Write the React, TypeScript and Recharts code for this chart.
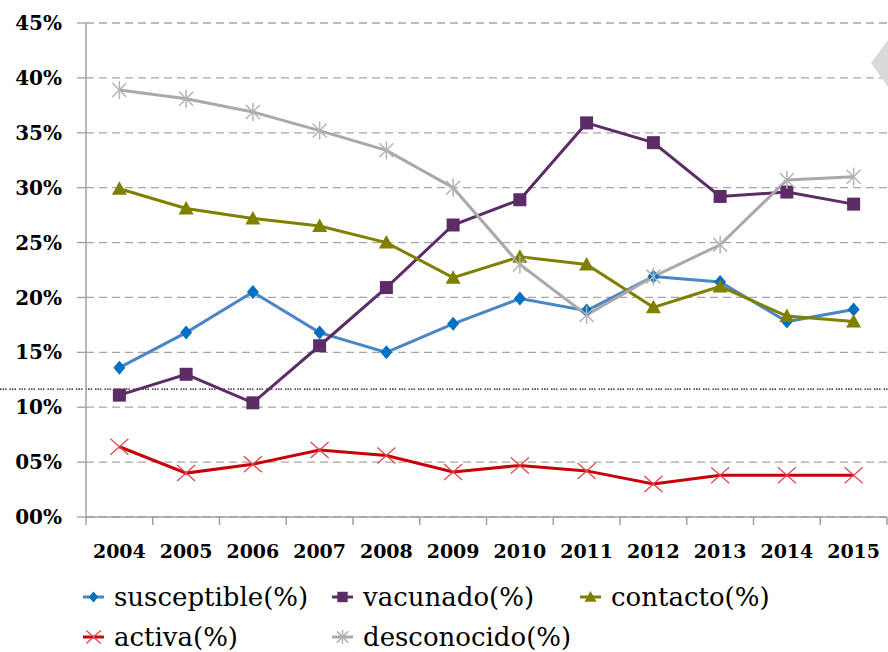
import React from 'react';
import { LineChart, Line, XAxis, YAxis, CartesianGrid, Legend, ReferenceLine } from 'recharts';

const years = ['2004', '2005', '2006', '2007', '2008', '2009', '2010', '2011', '2012', '2013', '2014', '2015'];
const susceptible = [13.6, 16.8, 20.5, 16.8, 15.0, 17.6, 19.9, 18.8, 21.9, 21.4, 17.8, 18.9];
const vacunado = [11.1, 13.0, 10.4, 15.6, 20.9, 26.6, 28.9, 35.9, 34.1, 29.2, 29.6, 28.5];
const contacto = [29.9, 28.1, 27.2, 26.5, 25.0, 21.8, 23.7, 23.0, 19.1, 21.0, 18.3, 17.8];
const activa = [6.4, 4.0, 4.8, 6.1, 5.6, 4.1, 4.7, 4.2, 3.0, 3.8, 3.8, 3.8];
const desconocido = [38.9, 38.1, 36.9, 35.2, 33.4, 30.0, 23.0, 18.4, 21.9, 24.8, 30.7, 31.0];
const yTicks = [0, 5, 10, 15, 20, 25, 30, 35, 40, 45];
const thresholdLine = 11.65;

const W = 888;
const H = 652;
const PLOT_LEFT = 86;
const PLOT_RIGHT = 887;
const BW = (PLOT_RIGHT - PLOT_LEFT) / years.length;

const data = years.map((y, i) => ({
  year: y,
  susceptible: susceptible[i],
  vacunado: vacunado[i],
  contacto: contacto[i],
  activa: activa[i],
  desconocido: desconocido[i],
}));

type M = { cx: number; cy: number; s?: number };

const Diamond = ({ cx, cy, s = 1 }: M) => (
  <polygon points={`${cx},${cy - 7 * s} ${cx + 6 * s},${cy} ${cx},${cy + 7 * s} ${cx - 6 * s},${cy}`} fill="#0070c0" />
);
const Square = ({ cx, cy, s = 1 }: M) => (
  <rect x={cx - 6.5 * s} y={cy - 6.5 * s} width={13 * s} height={13 * s} fill="#5b2c66" />
);
const Triangle = ({ cx, cy, s = 1 }: M) => (
  <polygon points={`${cx},${cy - 7.5 * s} ${cx + 7.5 * s},${cy + 6 * s} ${cx - 7.5 * s},${cy + 6 * s}`} fill="#7f7f00" />
);
const Cross = ({ cx, cy, s = 1 }: M) => (
  <g stroke="#e0474c" strokeWidth={1.3}>
    <line x1={cx - 9 * s} y1={cy - 8 * s} x2={cx + 9 * s} y2={cy + 8 * s} />
    <line x1={cx - 9 * s} y1={cy + 8 * s} x2={cx + 9 * s} y2={cy - 8 * s} />
  </g>
);
const Star = ({ cx, cy, s = 1 }: M) => (
  <g stroke="#b3b3b3" strokeWidth={1.5}>
    <line x1={cx - 7 * s} y1={cy - 7 * s} x2={cx + 7 * s} y2={cy + 7 * s} />
    <line x1={cx - 7 * s} y1={cy + 7 * s} x2={cx + 7 * s} y2={cy - 7 * s} />
    <line x1={cx} y1={cy - 9 * s} x2={cx} y2={cy + 9 * s} />
  </g>
);

const series = [
  { key: 'susceptible', label: 'susceptible(%)', color: '#4a85c6', Marker: Diamond },
  { key: 'vacunado', label: 'vacunado(%)', color: '#5b2c66', Marker: Square },
  { key: 'contacto', label: 'contacto(%)', color: '#808000', Marker: Triangle },
  { key: 'activa', label: 'activa(%)', color: '#c8000a', Marker: Cross },
  { key: 'desconocido', label: 'desconocido(%)', color: '#a9a9a9', Marker: Star },
];

const legendPos = [
  { x: 83, y: 40 },
  { x: 332, y: 40 },
  { x: 580, y: 40 },
  { x: 83, y: 80 },
  { x: 332, y: 80 },
];

const LegendContent = () => (
  <svg width={W} height={95} style={{ display: 'block' }}>
    {series.map((s, i) => {
      const p = legendPos[i];
      const M = s.Marker;
      return (
        <g key={s.key}>
          <line x1={p.x} x2={p.x + 21} y1={p.y} y2={p.y} stroke={s.color} strokeWidth={3} />
          <M cx={p.x + 10.5} cy={p.y} s={0.8} />
          <text x={p.x + 31} y={p.y + 9} fontFamily="'DejaVu Serif', serif" fontSize={26} fill="#000">
            {s.label}
          </text>
        </g>
      );
    })}
  </svg>
);

const XTick = (props: any) => {
  const { x, y, payload, index } = props;
  const last = index === years.length - 1;
  return (
    <g>
      <line x1={x - BW / 2} x2={x - BW / 2} y1={y - 8} y2={y} stroke="#a0a0a0" strokeWidth={1.5} />
      {last && <line x1={x + BW / 2} x2={x + BW / 2} y1={y - 8} y2={y} stroke="#a0a0a0" strokeWidth={1.5} />}
      <text x={x} y={y + 33} textAnchor="middle" fontFamily="'DejaVu Serif', serif" fontWeight="bold" fontSize={19} fill="#000">
        {payload.value}
      </text>
    </g>
  );
};

const DottedShape = (props: any) => (
  <line x1={0} x2={W} y1={props.y1} y2={props.y1} stroke="#111" strokeWidth={1.3} strokeDasharray="1.5 1 1.5 1 1.5 3" />
);

export default function App() {
  return (
    <div style={{ position: 'absolute', left: 0, top: 0, width: W, height: H, background: '#fff' }}>
      <LineChart width={W} height={H} data={data} margin={{ top: 23, right: W - PLOT_RIGHT, bottom: 0, left: 0 }}>
        <CartesianGrid vertical={false} stroke="#a6a6a6" strokeDasharray="8 5" strokeWidth={1.3} />
        <XAxis
          dataKey="year"
          height={40}
          padding={{ left: BW / 2, right: BW / 2 }}
          axisLine={{ stroke: '#a0a0a0', strokeWidth: 1.5 }}
          tickLine={{ stroke: 'none' }}
          tickSize={8}
          tickMargin={0}
          interval={0}
          tick={<XTick />}
        />
        <YAxis
          width={PLOT_LEFT}
          domain={[0, 45]}
          ticks={yTicks}
          interval={0}
          axisLine={{ stroke: '#a0a0a0', strokeWidth: 1.5 }}
          tickLine={{ stroke: '#a0a0a0', strokeWidth: 1.3 }}
          tickSize={9}
          tickMargin={15}
          tickFormatter={(v: number) => `${String(v).padStart(2, '0')}%`}
          tick={{ fontFamily: "'DejaVu Serif', serif", fontWeight: 'bold', fontSize: 20, fill: '#000' }}
        />
        <ReferenceLine y={thresholdLine} shape={<DottedShape />} ifOverflow="visible" />
        {series.map((s) => {
          const M = s.Marker;
          return (
            <Line
              key={s.key}
              dataKey={s.key}
              stroke={s.color}
              strokeWidth={3}
              isAnimationActive={false}
              dot={(p: any) => <M key={`${s.key}-${p.index}`} cx={p.cx} cy={p.cy} />}
              activeDot={false}
            />
          );
        })}
        <Legend verticalAlign="bottom" content={<LegendContent />} wrapperStyle={{ left: 0, width: W }} />
      </LineChart>
      <svg width={W} height={H} style={{ position: 'absolute', left: 0, top: 0, pointerEvents: 'none' }}>
        <polygon points="871,63 888,40 888,87" fill="#d9d9d9" />
      </svg>
    </div>
  );
}
